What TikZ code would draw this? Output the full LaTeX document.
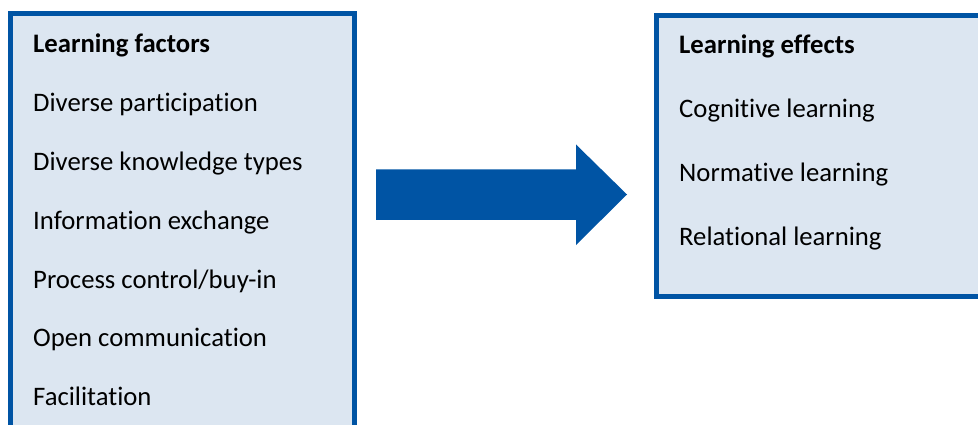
\documentclass[tikz,border=0pt]{standalone}
\usepackage{fontspec}
\setmainfont{Carlito}[Ligatures={NoCommon,NoContextual}]
\definecolor{boxblue}{RGB}{0,84,164}
\definecolor{boxfill}{RGB}{220,230,241}
\begin{document}
\begin{tikzpicture}[x=1pt,y=-1pt,
  panel/.style={draw=boxblue,line width=5pt,fill=boxfill},
  item/.style={anchor=base west,inner sep=0pt,font=\fontsize{26.7}{30}\selectfont,text=black},
  head/.style={item,font=\fontsize{26.7}{30}\selectfont\bfseries}]
\useasboundingbox (0,0) rectangle (978,425);
\clip (0,0) rectangle (978,425);
\draw[panel] (10.5,13.5) rectangle (354.5,445);
\draw[panel] (656.5,15.5) rectangle (995,296.5);
\fill[boxblue] (376,169.5) -- (576,169.5) -- (576,144.5) -- (627,194.5) -- (576,245) -- (576,220) -- (376,220) -- cycle;
\node[head] (lf) at (33,53) {Learning factors};
\node[item] (l1) at (33,111.7) {Diverse participation};
\node[item] (l2) at (33,170.5) {Diverse knowledge types};
\node[item] (l3) at (33,229.3) {Information exchange};
\node[item] (l4) at (33,288.1) {Process control/buy-in};
\node[item] (l5) at (33,346.9) {Open communication};
\node[item] (l6) at (33,405.7) {Facilitation};
\node[head] (le) at (679,53.5) {Learning effects};
\node[item] (r1) at (679,117.5) {Cognitive learning};
\node[item] (r2) at (679,181.5) {Normative learning};
\node[item] (r3) at (679,245.5) {Relational learning};
\end{tikzpicture}
\end{document}
